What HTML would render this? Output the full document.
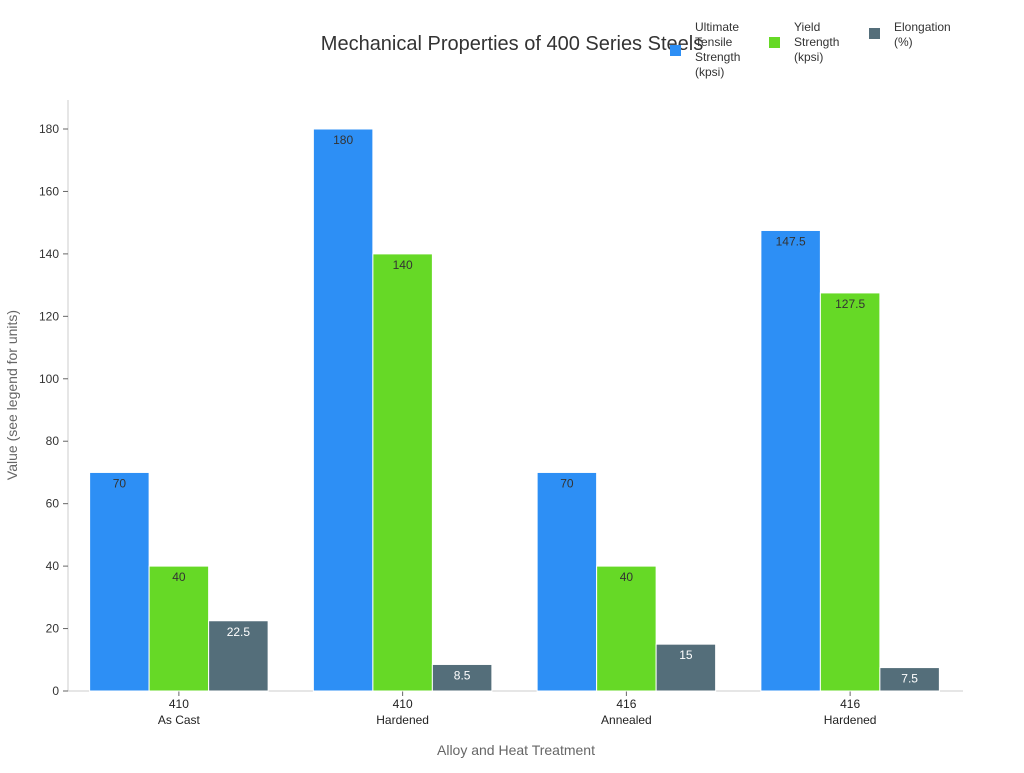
<!DOCTYPE html>
<html><head><meta charset="utf-8"><style>
body{margin:0;background:#fff;font-family:"Liberation Sans","DejaVu Sans",sans-serif}
</style></head><body>
<svg width="1024" height="768" xmlns="http://www.w3.org/2000/svg">
<text x="512" y="50" text-anchor="middle" font-size="20" fill="#333">Mechanical Properties of 400 Series Steels</text>
<g id="legend"></g>
<g id="plot"></g>
<text x="516" y="755" text-anchor="middle" font-size="14" fill="#666">Alloy and Heat Treatment</text>
<text transform="translate(17,395) rotate(-90)" text-anchor="middle" font-size="14" fill="#666">Value (see legend for units)</text>
</svg>
<script>
const categories=[["410","As Cast"],["410","Hardened"],["416","Annealed"],["416","Hardened"]];
const seriesNames=[["Ultimate","Tensile","Strength","(kpsi)"],["Yield","Strength","(kpsi)"],["Elongation","(%)"]];
const uts=[70,180,70,147.5];
const ys=[40,140,40,127.5];
const elong=[22.5,8.5,15,7.5];
const yTicks=[0,20,40,60,80,100,120,140,160,180];
const series=[uts,ys,elong];
const colors=["#2d8ff5","#66d926","#546e7a"];
const labelColors=["#333","#333","#fff"];
const NS="http://www.w3.org/2000/svg";
const x0=68,x1=963,y0=691,yTop=129,yMax=180;
const yScale=v=>y0-(v/yMax)*(y0-yTop);
const groupW=(x1-x0)/categories.length;
const barW=59.5;
const xCenter=i=>x0+groupW*(i+0.5)-1;
const plot=document.getElementById('plot');
function mk(tag,attrs,parent){const e=document.createElementNS(NS,tag);for(const k in attrs)e.setAttribute(k,attrs[k]);(parent||plot).appendChild(e);return e;}
// axes
let ax=mk('line',{x1:x0,y1:100,x2:x0,y2:y0,stroke:'#ccc'});


let bx=mk('line',{x1:x0,y1:y0,x2:x1,y2:y0,stroke:'#ccc'});


yTicks.forEach(t=>{
  const y=yScale(t);
  mk('line',{x1:x0-5,y1:y,x2:x0,y2:y,stroke:'#666'});
  const tx=mk('text',{x:x0-9,y:y+4,'text-anchor':'end','font-size':12,fill:'#333'});
  tx.textContent=t;
  
  
});
categories.forEach((c,i)=>{
  const cx=xCenter(i);
  mk('line',{x1:cx,y1:y0,x2:cx,y2:y0+5,stroke:'#666'});
  c.forEach((s,j)=>{
    const t=mk('text',{x:cx,y:y0+17+j*16,'text-anchor':'middle','font-size':12,fill:'#222'});
    t.textContent=s;
    
    
  });
  series.forEach((arr,k)=>{
    const v=arr[i];
    const bxp=cx+(k-1.5)*barW;
    const r=mk('rect',{x:bxp,y:yScale(v),width:barW,height:y0-yScale(v),fill:colors[k],stroke:'#fff','stroke-width':1});
    
    
    const l=mk('text',{x:bxp+barW/2,y:yScale(v)+15,'text-anchor':'middle','font-size':12,fill:labelColors[k]});
    l.textContent=v;
    
    
  });
});
const lg=document.getElementById('legend');
const lx=[670,769,869],ly=[45,37,28];
seriesNames.forEach((n,k)=>{
  const r=mk('rect',{x:lx[k],y:ly[k],width:11,height:11,fill:colors[k]},lg);
  
  
  n.forEach((s,j)=>{
    const t=mk('text',{x:lx[k]+25,y:31+j*15,'font-size':12,fill:'#333'},lg);
    t.textContent=s;
    
    
  });
});
</script>
</body></html>
